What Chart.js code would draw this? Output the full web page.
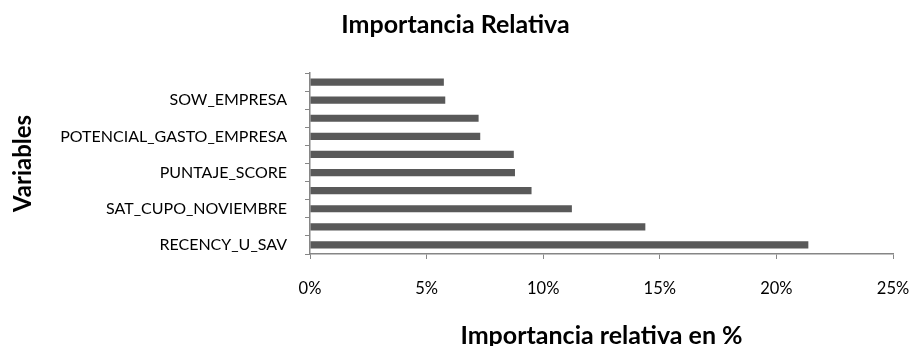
<!DOCTYPE html>
<html>
<head>
<meta charset="utf-8">
<script src="https://cdn.jsdelivr.net/npm/chart.js@4"></script>
<style>
  body { margin: 0; background: #fff; }
</style>
</head>
<body>
<canvas id="chart" width="911" height="346"></canvas>
<script>
// categories top to bottom (unlabelled rows are skipped in the original)
const variables = ["", "SOW_EMPRESA", "", "POTENCIAL_GASTO_EMPRESA", "", "PUNTAJE_SCORE", "", "SAT_CUPO_NOVIEMBRE", "", "RECENCY_U_SAV"];
const importancia = [5.74, 5.80, 7.23, 7.30, 8.74, 8.79, 9.50, 11.23, 14.38, 21.37];
const xTicks = [0, 5, 10, 15, 20, 25];

const FONT = "Lato, 'Open Sans', sans-serif";
const axisGray = "#868686";

const ctx = document.getElementById("chart").getContext("2d");

new Chart(ctx, {
    type: 'bar',
    data: {
        labels: variables,
        datasets: [{
            data: importancia,
            backgroundColor: "#595959",
            borderWidth: 0,
            barPercentage: 0.4,
            categoryPercentage: 1
        }]
    },
    options: {
        indexAxis: 'y',
        responsive: false,
        animation: false,
        // symmetric padding keeps the title centred on the canvas
        layout: { padding: { left: 9, right: 9, top: 0, bottom: 0 } },
        plugins: {
            legend: { display: false },
            tooltip: { enabled: false },
            title: {
                display: true,
                text: "Importancia Relativa",
                color: "#000",
                font: { family: FONT, size: 25, weight: 'bold' },
                padding: { top: 10, bottom: 33 }
            }
        },
        scales: {
            x: {
                min: xTicks[0],
                max: xTicks[xTicks.length - 1],
                afterBuildTicks: axis => {
                    axis.ticks = xTicks.map(v => ({ value: v }));
                },
                afterFit: axis => {
                    axis.height = 92;
                    axis.paddingLeft = 0;
                    axis.paddingRight = 18;
                },
                grid: {
                    drawOnChartArea: false,
                    color: axisGray,
                    tickLength: 5
                },
                border: { color: axisGray, width: 1.5 },
                ticks: {
                    color: "#000",
                    padding: 20,
                    font: { family: FONT, size: 16.5 },
                    callback: v => v + "%"
                },
                title: {
                    display: true,
                    text: "Importancia relativa en %",
                    color: "#000",
                    font: { family: FONT, size: 25, weight: 'bold', lineHeight: 0.8 },
                    padding: { top: 0, bottom: 0 }
                }
            },
            y: {
                afterFit: axis => { axis.width = 301; },
                grid: {
                    drawOnChartArea: false,
                    color: axisGray,
                    tickLength: 5
                },
                border: { color: axisGray, width: 1.5 },
                ticks: {
                    autoSkip: false,
                    color: "#000",
                    padding: 18,
                    font: { family: FONT, size: 16 }
                },
                title: {
                    display: true,
                    text: "Variables",
                    color: "#000",
                    font: { family: FONT, size: 24, weight: 'bold' },
                    padding: { top: 0, bottom: 0 }
                }
            }
        }
    }
});
</script>
</body>
</html>
